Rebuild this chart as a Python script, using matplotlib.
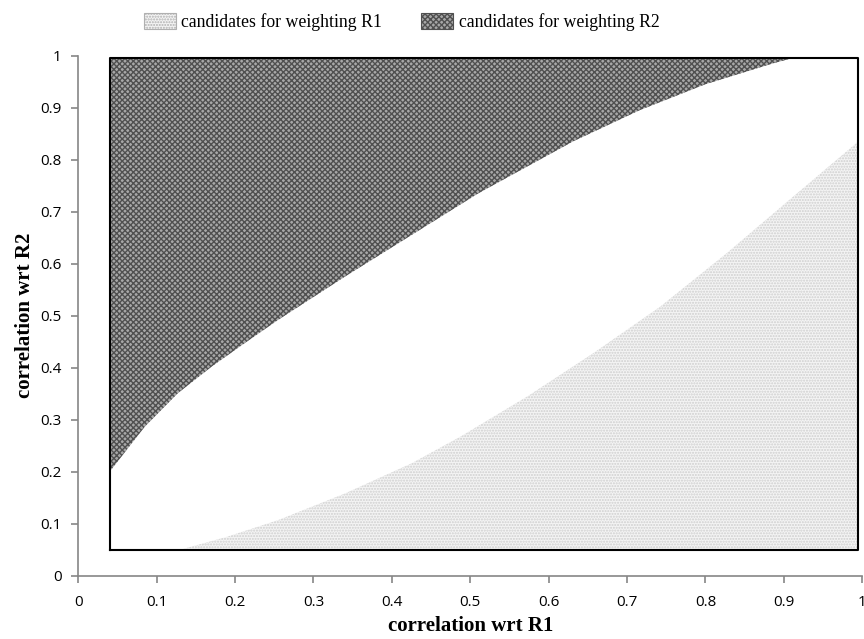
import matplotlib
matplotlib.use("Agg")
import matplotlib.pyplot as plt
from matplotlib.patches import Patch

# boundary between "weight R2" region and the middle
upper_x = [0.04, 0.085, 0.127, 0.17, 0.212, 0.255, 0.34, 0.425, 0.51, 0.631, 0.716, 0.80, 0.886, 0.908]
upper_y = [0.20, 0.287, 0.351, 0.402, 0.447, 0.492, 0.575, 0.655, 0.735, 0.835, 0.895, 0.945, 0.985, 0.994]

# boundary between the middle and the "weight R1" region
lower_x = [0.13, 0.19, 0.255, 0.34, 0.425, 0.487, 0.572, 0.657, 0.742, 0.827, 0.912, 0.995]
lower_y = [0.05, 0.075, 0.107, 0.158, 0.216, 0.267, 0.344, 0.428, 0.517, 0.62, 0.729, 0.835]

# extent of the computed grid
x_range = [0.04, 0.995]
y_range = [0.05, 0.995]

labels = ["candidates for weighting R1", "candidates for weighting R2"]
ticks = [0, 0.1, 0.2, 0.3, 0.4, 0.5, 0.6, 0.7, 0.8, 0.9, 1]
tick_labels = ["0", "0.1", "0.2", "0.3", "0.4", "0.5", "0.6", "0.7", "0.8", "0.9", "1"]

serif = ["Liberation Serif", "DejaVu Serif"]
axis_grey = "#868686"

fig = plt.figure(figsize=(8.64, 6.39), dpi=100)
ax = fig.add_axes([0.0906, 0.099, 0.9074, 0.814])

# dark region: above the upper curve
ax.fill_between(upper_x, upper_y, y_range[1], facecolor="#a8a8a8",
                edgecolor="#505050", hatch="xxxxxx", linewidth=0)
# light region: below the lower curve
ax.fill_between(lower_x, y_range[0], lower_y, facecolor="#f4f4f4",
                edgecolor="#cfcfcf", hatch="......", linewidth=0)

# outline of the grid
ax.plot([x_range[0], x_range[1], x_range[1], x_range[0], x_range[0]],
        [y_range[0], y_range[0], y_range[1], y_range[1], y_range[0]],
        color="black", linewidth=1.5)

ax.set_xlim(0, 1)
ax.set_ylim(0, 1)
ax.set_xticks(ticks)
ax.set_xticklabels(tick_labels)
ax.set_yticks(ticks)
ax.set_yticklabels(tick_labels)

for side in ["top", "right"]:
    ax.spines[side].set_visible(False)
for side in ["left", "bottom"]:
    ax.spines[side].set_color(axis_grey)
    ax.spines[side].set_linewidth(1.2)
ax.tick_params(direction="out", length=5, width=1.2, color=axis_grey,
               labelsize=11)
ax.tick_params(axis="x", pad=9)
ax.tick_params(axis="y", pad=7)
for lab in ax.get_xticklabels() + ax.get_yticklabels():
    lab.set_family(["Open Sans", "DejaVu Sans"])

ax.set_xlabel("correlation wrt R1", family=serif, fontsize=15,
              fontweight="bold", labelpad=4)
ax.set_ylabel("correlation wrt R2", family=serif, fontsize=15,
              fontweight="bold", labelpad=4)

handles = [
    Patch(facecolor="#f4f4f4", edgecolor="#b0b0b0", hatch="......", linewidth=0.8),
    Patch(facecolor="#a8a8a8", edgecolor="#505050", hatch="xxxxxx", linewidth=0.8),
]
fig.legend(handles, labels, loc="upper center", bbox_to_anchor=(0.465, 1.005),
           ncol=2, frameon=False, prop={"family": serif, "size": 12.8},
           handlelength=1.8, handleheight=1.0, handletextpad=0.3,
           columnspacing=2.2)

fig.savefig("out.png", dpi=100)
